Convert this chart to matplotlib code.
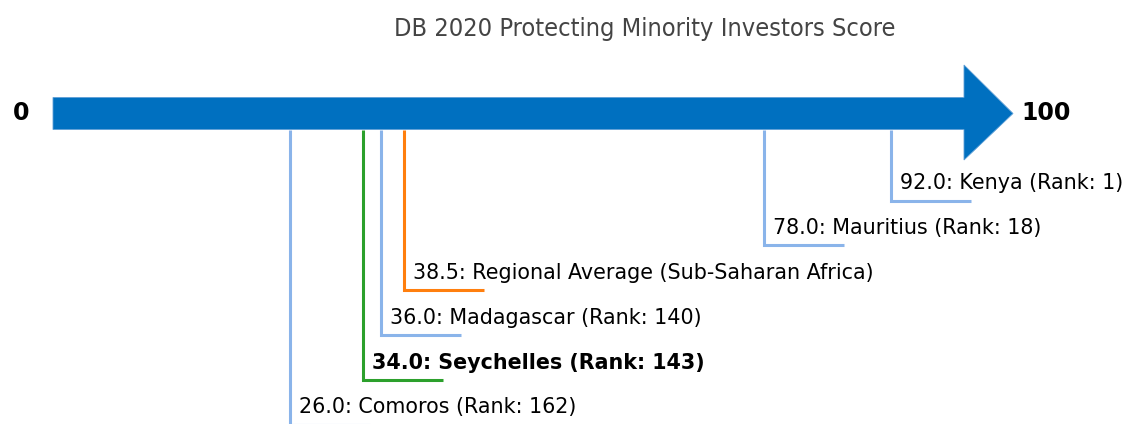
import matplotlib
matplotlib.use("Agg")
import matplotlib.pyplot as plt
from matplotlib.patches import Polygon

title = "DB 2020 Protecting Minority Investors Score"
names = ["Kenya", "Mauritius", "Regional Average (Sub-Saharan Africa)", "Madagascar", "Seychelles", "Comoros"]
scores = [92.0, 78.0, 38.5, 36.0, 34.0, 26.0]
ranks = [1, 18, None, 140, 143, 162]
colors = ["#8ab4ea", "#8ab4ea", "#ff7f0e", "#8ab4ea", "#2ca02c", "#8ab4ea"]
bold = [False, False, False, False, True, False]
axis_min, axis_max = 0, 100

W, H, DPI = 1128, 424, 100
fig = plt.figure(figsize=(W / DPI, H / DPI), dpi=DPI)
ax = fig.add_axes([0, 0, 1, 1])
px_per_unit = 9.11
x0_px = 53
ax.set_xlim(-x0_px / px_per_unit, (W - x0_px) / px_per_unit)
ax.set_ylim(H, 0)
ax.axis("off")

# arrow
body_top, body_bot = 97.5, 129.5
head_top, head_bot = 65, 160
head_len = 49 / px_per_unit
arrow = Polygon([(axis_min, body_top), (axis_max, body_top), (axis_max, head_top),
                 (axis_max + head_len, (body_top + body_bot) / 2), (axis_max, head_bot),
                 (axis_max, body_bot), (axis_min, body_bot)],
                closed=True, facecolor="#0070c0", edgecolor="#5f9fd6", lw=0.6, zorder=2)
ax.add_patch(arrow)

ax.text(-32 / px_per_unit, 113, str(axis_min), ha="center", va="center",
        fontsize=17, fontweight="bold", color="black")
ax.text(axis_max + 82 / px_per_unit, 113, str(axis_max), ha="center", va="center",
        fontsize=17, fontweight="bold", color="black")

ax.text((645 - x0_px) / px_per_unit, 29, title, ha="center", va="center", fontsize=18.2,
        color="#444444", family="DejaVu Sans", fontstretch="condensed")

level0, step = 200.5, 44.9
hlen = 80 / px_per_unit
for i, (n, s, r, c, b) in enumerate(zip(names, scores, ranks, colors, bold)):
    y = level0 + i * step
    ax.plot([s, s, s + hlen], [body_bot, y, y], color=c, lw=2.2, zorder=1,
            solid_joinstyle="miter", solid_capstyle="butt")
    label = f"{s:.1f}: {n}" + (f" (Rank: {r})" if r is not None else "")
    ax.text(s + 9 / px_per_unit, y - 17.5, label, ha="left", va="center",
            fontsize=14.9, fontweight="bold" if b else "normal", color="black")

fig.savefig("out.png", dpi=DPI)
